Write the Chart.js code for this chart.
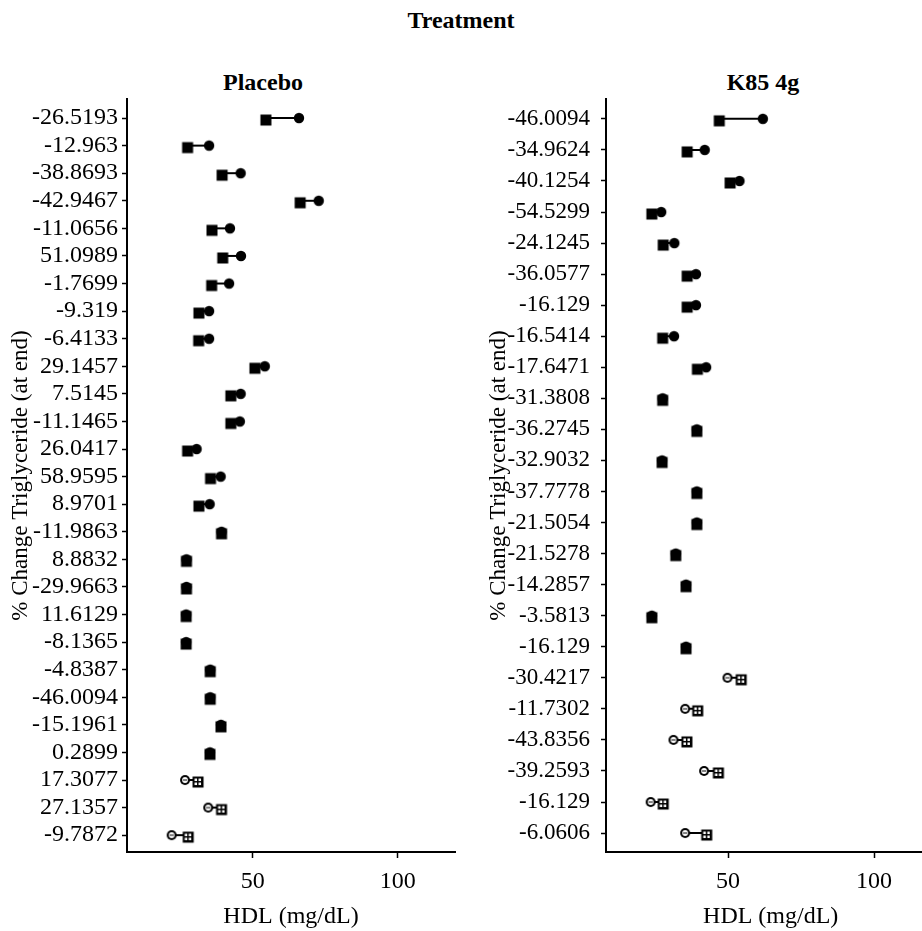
<!DOCTYPE html>
<html>
<head>
<meta charset="utf-8">
<script src="https://cdn.jsdelivr.net/npm/chart.js@4/dist/chart.umd.min.js"></script>
<style>
  html, body { margin: 0; padding: 0; background: #fff; }
  #wrap { position: relative; width: 922px; height: 931px; overflow: hidden; background: #fff;
          font-family: "Liberation Serif", "Times New Roman", serif; color: #000; }
  .ttl { position: absolute; font-weight: bold; font-size: 24px; line-height: 1; white-space: nowrap;
         transform: translateX(-50%); }
  canvas { position: absolute; top: 0; }
</style>
</head>
<body>
<div id="wrap">
  <div class="ttl" style="left:461px; top:8px;">Treatment</div>
  <div class="ttl" style="left:263px; top:70px;">Placebo</div>
  <div class="ttl" style="left:763px; top:70px;">K85 4g</div>
  <canvas id="placebo" style="left:0px;" width="470" height="931"></canvas>
  <canvas id="k85" style="left:476px;" width="480" height="931"></canvas>
</div>
<script>
// Row labels: % change in triglyceride at end of study, one row per subject
const placeboLabels = ['-26.5193', '-12.963', '-38.8693', '-42.9467', '-11.0656', '51.0989', '-1.7699',
  '-9.319', '-6.4133', '29.1457', '7.5145', '-11.1465', '26.0417', '58.9595', '8.9701', '-11.9863',
  '8.8832', '-29.9663', '11.6129', '-8.1365', '-4.8387', '-46.0094', '-15.1961', '0.2899', '17.3077',
  '27.1357', '-9.7872'];
// HDL at baseline (circles) and at end (squares), mg/dL
const placeboBaseline = [65.9, 34.9, 45.8, 72.7, 42.1, 45.9, 41.8, 34.9, 34.9, 54.1, 45.8, 45.5, 30.6,
  38.9, 35.1, 39.2, 27.1, 27.1, 27.0, 27.0, 35.3, 35.3, 39.0, 35.2, 26.6, 34.6, 22.0];
const placeboEnd = [54.5, 27.5, 39.4, 66.3, 35.9, 39.6, 35.8, 31.4, 31.3, 50.7, 42.4, 42.4, 27.5,
  35.4, 31.4, 39.2, 27.1, 27.1, 27.0, 27.0, 35.3, 35.3, 39.0, 35.2, 31.1, 39.2, 27.7];

const k85Labels = ['-46.0094', '-34.9624', '-40.1254', '-54.5299', '-24.1245', '-36.0577', '-16.129',
  '-16.5414', '-17.6471', '-31.3808', '-36.2745', '-32.9032', '-37.7778', '-21.5054', '-21.5278',
  '-14.2857', '-3.5813', '-16.129', '-30.4217', '-11.7302', '-43.8356', '-39.2593', '-16.129', '-6.0606'];
const k85Baseline = [61.9, 42.0, 53.9, 27.1, 31.6, 39.0, 39.0, 31.5, 42.5, 27.6, 39.3, 27.4, 39.3,
  39.3, 32.1, 35.6, 23.9, 35.6, 49.8, 35.3, 31.3, 41.8, 23.5, 35.3];
const k85End = [47.0, 36.0, 50.7, 23.9, 27.8, 36.0, 36.0, 27.6, 39.5, 27.6, 39.3, 27.4, 39.3,
  39.3, 32.1, 35.6, 23.9, 35.6, 54.5, 39.6, 35.9, 46.7, 27.8, 42.7];

const hdlTicks = [50, 100];

const SERIF = '"Liberation Serif", "Times New Roman", serif';
Chart.defaults.font.family = SERIF;
Chart.defaults.color = '#000';

// Small bitmap markers: solid for falling HDL, open/hatched for rising HDL.
// Squares sit a couple of pixels low, as in the printed figure.
function marker(kind) {
  const c = document.createElement('canvas');
  c.width = 14; c.height = 18;
  const g = c.getContext('2d');
  const cx = 7, cy = 9;
  g.fillStyle = '#000';
  if (kind === 'dot') {
    g.beginPath(); g.arc(cx, cy, 5.2, 0, Math.PI * 2); g.fill();
  } else if (kind === 'ring') {
    g.beginPath(); g.arc(cx, cy, 5, 0, Math.PI * 2); g.fill();
    g.fillStyle = '#fff';
    g.beginPath(); g.arc(cx, cy, 2.9, 0, Math.PI * 2); g.fill();
    g.fillStyle = '#000';
    g.fillRect(cx - 2, cy - 0.5, 4, 1);
  } else if (kind === 'box') {
    g.fillRect(cx - 5.5, cy + 2 - 5.5, 11, 11);
  } else if (kind === 'grid') {
    const x0 = cx - 5.5, y0 = cy + 2 - 5.5;
    g.fillRect(x0, y0, 11, 11);
    g.fillStyle = '#fff';
    [[2, 2], [6, 2], [2, 6], [6, 6]].forEach(([dx, dy]) => g.fillRect(x0 + dx, y0 + dy, 2.5, 2.5));
  }
  return c;
}
const DOT = marker('dot'), RING = marker('ring'), BOX = marker('box'), GRID = marker('grid');

function panel(id, labels, base, end, cfg) {
  const rows = labels.map((_, i) => i);
  const rising = rows.map(i => end[i] > base[i]);

  const connectors = rows.map(i => ({
    data: [{ x: base[i], y: i }, { x: end[i], y: i }],
    showLine: true, pointRadius: 0, borderColor: '#000', borderWidth: 2, order: 3
  }));
  const squares = {
    data: rows.map(i => ({ x: end[i], y: i })),
    pointStyle: rows.map(i => rising[i] ? GRID : BOX),
    pointRadius: 6, order: 2
  };
  const circles = {
    data: rows.map(i => ({ x: base[i], y: i })),
    pointStyle: rows.map(i => rising[i] ? RING : DOT),
    pointRadius: 6, order: 1
  };

  return new Chart(document.getElementById(id), {
    type: 'scatter',
    data: { datasets: [circles, squares, ...connectors] },
    options: {
      responsive: false, animation: false, devicePixelRatio: 1,
      layout: { padding: { top: 99, left: 0, right: cfg.padRight, bottom: 0 } },
      plugins: { legend: { display: false }, tooltip: { enabled: false } },
      events: [],
      scales: {
        x: {
          type: 'linear', position: 'bottom', min: cfg.xMin, max: cfg.xMax,
          afterBuildTicks: s => { s.ticks = hdlTicks.map(v => ({ value: v })); },
          ticks: { font: { size: 24 }, color: '#000', padding: 9, maxRotation: 0, callback: v => String(v) },
          grid: { drawOnChartArea: false, drawTicks: true, tickLength: 6, tickWidth: 1.5, tickColor: '#000' },
          border: { display: true, color: '#000', width: 2 },
          title: { display: true, text: 'HDL (mg/dL)', font: { size: 24 }, color: '#000', padding: { top: 0, bottom: 0 } },
          afterFit: s => { s.height = 931 - 852; }
        },
        y: {
          type: 'linear', position: 'left', reverse: true, min: cfg.yMin, max: cfg.yMax,
          afterBuildTicks: s => { s.ticks = rows.map(i => ({ value: i })); },
          ticks: { autoSkip: false, font: { size: cfg.labelSize }, color: '#000', padding: cfg.yPad,
                   callback: v => labels[v] },
          grid: { drawOnChartArea: false, drawTicks: true, tickLength: 5, tickWidth: 1.5, tickColor: '#000' },
          border: { display: true, color: '#000', width: 2 },
          title: { display: true, text: '% Change Triglyceride (at end)', font: { size: 23 }, color: '#000',
                   padding: { top: cfg.titlePad, bottom: 0 } },
          afterFit: s => { s.width = cfg.yWidth; }
        }
      }
    }
  });
}

panel('placebo', placeboLabels, placeboBaseline, placeboEnd, {
  xMin: 6.6, xMax: 119.7, yMin: -0.69, yMax: 26.61, yWidth: 127, padRight: 15,
  titlePad: 7, labelSize: 24, yPad: 4
});
panel('k85', k85Labels, k85Baseline, k85End, {
  xMin: 8.2, xMax: 121, yMin: -0.64, yMax: 23.61, yWidth: 130, padRight: 20.6,
  titlePad: 9, labelSize: 23, yPad: 11
});
</script>
</body>
</html>
